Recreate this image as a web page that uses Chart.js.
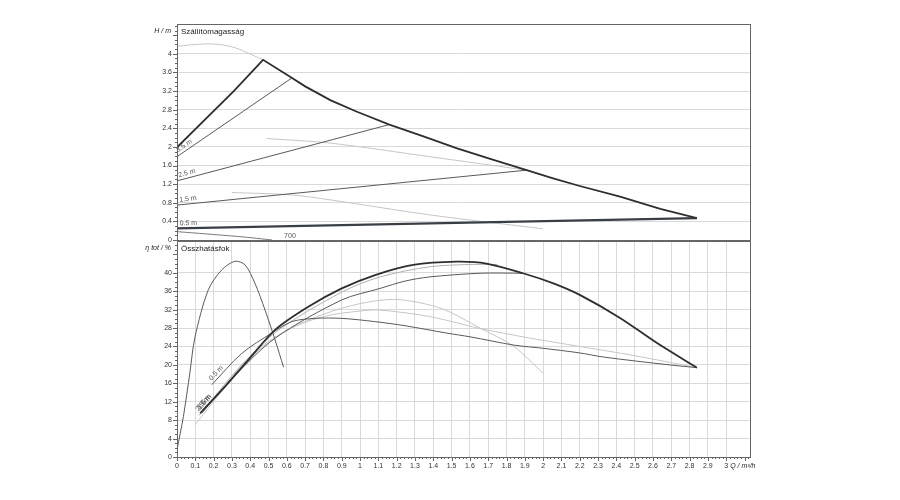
<!DOCTYPE html>
<html>
<head>
<meta charset="utf-8">
<script src="https://cdn.jsdelivr.net/npm/chart.js@4.4.1/dist/chart.umd.min.js"></script>
<style>
body { margin: 0; background: #fff; }
#wrap { position: relative; width: 900px; height: 500px; }
canvas { position: absolute; left: 0; top: 0; }
</style>
</head>
<body>
<div id="wrap">
  <canvas id="headChart" width="900" height="500"></canvas>
  <canvas id="effChart" width="900" height="500"></canvas>
</div>
<script>
// ---- head (H / m) curves, Q in m3/h ----
const qEnvelope = [0, 0.31, 0.47, 0.62, 0.70, 0.84, 0.98, 1.16, 1.35, 1.53, 1.72, 1.91, 2.05, 2.20, 2.42, 2.64, 2.84];
const hEnvelope = [1.99, 3.20, 3.87, 3.50, 3.30, 3.00, 2.76, 2.48, 2.22, 1.97, 1.73, 1.50, 1.33, 1.16, 0.93, 0.67, 0.47];
const qMaxSpeed = [0, 0.1, 0.2, 0.3, 0.38, 0.47];
const hMaxSpeed = [4.16, 4.20, 4.21, 4.15, 4.03, 3.87];
const qSpeedB = [0.49, 0.84, 1.38, 1.91];
const hSpeedB = [2.18, 2.08, 1.79, 1.50];
const qSpeedC = [0.30, 0.62, 0.84, 1.38, 2.00];
const hSpeedC = [1.02, 0.97, 0.86, 0.54, 0.24];
const qDp35 = [0, 0.627];  const hDp35 = [1.79, 3.48];
const qDp25 = [0, 1.16];   const hDp25 = [1.27, 2.48];
const qDp15 = [0, 1.91];   const hDp15 = [0.75, 1.50];
const qDp05 = [0, 2.84];   const hDp05 = [0.25, 0.47];
const q700 = [0, 0.35, 0.52];
const h700 = [0.18, 0.07, 0];

// ---- efficiency (eta tot / %) curves ----
const qEffTall = [0, 0.035, 0.07, 0.098, 0.171, 0.244, 0.317, 0.372, 0.426, 0.481, 0.536, 0.582];
const eEffTall = [1.6, 8.8, 18.2, 26.0, 36.3, 40.6, 42.5, 41.7, 37.7, 31.9, 25.4, 19.5];
const qEffMax = [0.126, 0.262, 0.39, 0.536, 0.717, 0.9, 1.082, 1.29, 1.528, 1.69, 1.89, 2.056, 2.2, 2.42, 2.62, 2.84];
const eEffMax = [9.5, 15.3, 21.1, 27.6, 32.6, 36.6, 39.5, 41.7, 42.4, 42.0, 39.9, 37.7, 35.2, 30.2, 24.8, 19.4];
const qEff15 = [0.135, 0.3, 0.536, 0.9, 1.109, 1.246, 1.38, 1.656, 1.89];
const eEff15 = [9.5, 17.0, 25.8, 34.1, 36.6, 38.2, 39.1, 39.9, 39.9];
const qEff25 = [0.12, 0.3, 0.536, 0.9, 1.109, 1.38, 1.6, 1.75];
const eEff25 = [9.0, 17.5, 27.0, 35.8, 39.1, 41.3, 41.8, 41.8];
const qEffC = [0.098, 0.4, 0.6, 0.8, 1.0, 1.2, 1.44, 1.66, 1.84, 2.0];
const eEffC = [7.0, 21.5, 27.5, 31.0, 33.3, 34.2, 32.3, 27.9, 24.0, 18.2];
const qEffB = [0.15, 0.4, 0.6, 0.8, 1.0, 1.109, 1.38, 1.656, 1.93, 2.2, 2.5, 2.84];
const eEffB = [10.5, 22.0, 27.5, 30.5, 31.7, 31.9, 30.5, 27.9, 25.8, 24.0, 22.0, 19.4];
const qEff05 = [0.19, 0.354, 0.517, 0.627, 0.754, 0.9, 1.08, 1.246, 1.474, 1.6, 1.84, 2.0, 2.2, 2.33, 2.69, 2.84];
const eEff05 = [15.7, 22.5, 26.9, 29.4, 30.1, 30.1, 29.4, 28.5, 26.9, 26.1, 24.3, 23.6, 22.6, 21.7, 20.0, 19.4];

// ---- axes ----
const qMin = 0, qMax = 3.13, qStep = 0.1, qLastLabel = 3;
const hMin = 0, hMax = 4.64, hGridStep = 0.2, hLabelStep = 0.4;
const eMin = 0, eMax = 46.9, eGridStep = 2, eLabelStep = 4;

const FONT = '"Liberation Sans", Arial, sans-serif';
const DARK = '#2e2e2e', MID = '#5a5a5a', LIGHT = '#c6c6c6', GRID = '#d9d9d9';

function pts(qs, vs) { return qs.map((q, i) => ({ x: q, y: vs[i] })); }
function curve(label, qs, vs, color, width, tension) {
  return { label, data: pts(qs, vs), borderColor: color, borderWidth: width,
    pointRadius: 0, showLine: true, fill: false, tension: tension };
}
function interp(qs, vs, q) {
  for (let i = 1; i < qs.length; i++) {
    if (q <= qs[i]) return vs[i - 1] + (vs[i] - vs[i - 1]) * (q - qs[i - 1]) / (qs[i] - qs[i - 1]);
  }
  return vs[vs.length - 1];
}
function fmt(v) { return String(Math.round(v * 10) / 10); }
function labelEvery(v, step, skip) {
  const k = v / step;
  if (Math.abs(k - Math.round(k)) > 1e-6) return null;
  if (skip.some(s => Math.abs(s - v) < 1e-6)) return null;
  return fmt(v);
}

// frame, minor ticks and texts
const framePlugin = {
  id: 'frame',
  afterDraw(chart, args, o) {
    const { ctx, chartArea: a, scales } = chart;
    ctx.save();
    ctx.strokeStyle = '#666'; ctx.lineWidth = 1;
    ctx.strokeRect(Math.round(a.left) + 0.5, Math.round(a.top) + 0.5,
      Math.round(a.right - a.left), Math.round(a.bottom - a.top));
    // y minor ticks
    const y = scales.y;
    const n = Math.floor((y.max - y.min) / o.yMinor + 1e-6);
    for (let i = 0; i <= n; i++) {
      const v = y.min + i * o.yMinor;
      const py = Math.round(y.getPixelForValue(v)) + 0.5;
      const major = Math.abs(v / o.yMajor - Math.round(v / o.yMajor)) < 1e-6;
      ctx.beginPath(); ctx.moveTo(a.left, py); ctx.lineTo(a.left - (major ? 4 : 2), py); ctx.stroke();
    }
    if (o.xTicks) {
      const x = scales.x;
      const m = Math.floor((x.max - x.min) / 0.02 + 1e-6);
      for (let i = 0; i <= m; i++) {
        const v = x.min + i * 0.02;
        const px = Math.round(x.getPixelForValue(v)) + 0.5;
        const major = i % 5 === 0;
        ctx.beginPath(); ctx.moveTo(px, a.bottom); ctx.lineTo(px, a.bottom + (major ? 4 : 2)); ctx.stroke();
      }
    }
    // titles
    ctx.fillStyle = '#222';
    ctx.font = '8px ' + FONT;
    ctx.textAlign = 'left'; ctx.textBaseline = 'middle';
    ctx.fillText(o.title, a.left + 4, a.top + 8);
    ctx.textAlign = 'right';
    ctx.font = 'italic 7px ' + FONT;
    ctx.fillText(o.yTitle, a.left - 6, a.top + 7);
    if (o.xTicks) {
      ctx.textAlign = 'left';
      ctx.fillText('Q / m\u00b3/h', scales.x.getPixelForValue(qLastLabel) + 4, a.bottom + 9);
    }
    // labels along lines
    ctx.fillStyle = '#555';
    ctx.font = '7px ' + FONT;
    (o.lineLabels || []).forEach(l => {
      const ds = chart.data.datasets[l.ds].data;
      const qs = ds.map(p => p.x), vs = ds.map(p => p.y);
      const q2 = l.q + 0.05;
      const x1 = scales.x.getPixelForValue(l.q), y1 = scales.y.getPixelForValue(interp(qs, vs, l.q));
      const x2 = scales.x.getPixelForValue(q2), y2 = scales.y.getPixelForValue(interp(qs, vs, q2));
      ctx.save();
      ctx.translate(x1, y1);
      ctx.rotate(Math.atan2(y2 - y1, x2 - x1));
      ctx.textAlign = 'left'; ctx.textBaseline = 'bottom';
      ctx.fillText(l.text, 0, -1.5);
      ctx.restore();
    });
    (o.freeLabels || []).forEach(l => {
      ctx.textAlign = 'center'; ctx.textBaseline = 'middle';
      ctx.fillText(l.text, scales.x.getPixelForValue(l.q), scales.y.getPixelForValue(l.v));
    });
    ctx.restore();
  }
};

function baseX(show) {
  const x = {
    type: 'linear', min: qMin, max: qMax, display: show,
    border: { display: false },
    grid: { color: GRID, drawTicks: false },
    ticks: { stepSize: qStep, includeBounds: false, autoSkip: false, maxRotation: 0,
      padding: 5, color: '#333', font: { size: 7, family: FONT },
      callback: v => (v > qLastLabel + 1e-6 ? null : fmt(v)) }
  };
  if (show) x.afterFit = s => { s.height = 43; };
  return x;
}

new Chart(document.getElementById('headChart'), {
  type: 'scatter',
  data: { datasets: [
    curve('max', qEnvelope, hEnvelope, DARK, 1.8, 0),
    curve('0.5 m', qDp05, hDp05, '#3a3f45', 2.2, 0),
    curve('3.5 m', qDp35, hDp35, MID, 1, 0),
    curve('2.5 m', qDp25, hDp25, MID, 1, 0),
    curve('1.5 m', qDp15, hDp15, MID, 1, 0),
    curve('max speed', qMaxSpeed, hMaxSpeed, LIGHT, 1, 0.4),
    curve('speed b', qSpeedB, hSpeedB, LIGHT, 1, 0.3),
    curve('speed c', qSpeedC, hSpeedC, LIGHT, 1, 0.3),
    curve('700', q700, h700, '#777', 1, 0.2)
  ] },
  options: {
    responsive: false, animation: false,
    layout: { autoPadding: false, padding: { top: 24, right: 150, bottom: 260, left: 0 } },
    plugins: { legend: { display: false }, tooltip: { enabled: false },
      frame: { yMinor: 0.1, yMajor: hLabelStep, xTicks: false, title: 'Szállítómagasság', yTitle: 'H / m',
        lineLabels: [
          { ds: 2, q: 0.015, text: '3.5 m' },
          { ds: 3, q: 0.015, text: '2.5 m' },
          { ds: 4, q: 0.015, text: '1.5 m' },
          { ds: 1, q: 0.015, text: '0.5 m' }
        ],
        freeLabels: [{ q: 0.617, v: 0.09, text: '700' }] } },
    scales: {
      x: baseX(false),
      y: { type: 'linear', min: hMin, max: hMax,
        afterFit(s) { s.width = 177; },
        border: { display: false },
        grid: { color: GRID, drawTicks: false },
        ticks: { stepSize: hGridStep, includeBounds: false, autoSkip: false, padding: 5,
          color: '#333', font: { size: 7, family: FONT }, callback: v => labelEvery(v, hLabelStep, [4.4]) } }
    }
  },
  plugins: [framePlugin]
});

new Chart(document.getElementById('effChart'), {
  type: 'scatter',
  data: { datasets: [
    curve('max', qEffMax, eEffMax, DARK, 1.8, 0.3),
    curve('tall', qEffTall, eEffTall, MID, 1, 0.3),
    curve('1.5 m', qEff15, eEff15, MID, 1, 0.3),
    curve('0.5 m', qEff05, eEff05, MID, 1, 0.3),
    curve('2.5 m', qEff25, eEff25, '#b0b0b0', 1, 0.3),
    curve('c', qEffC, eEffC, LIGHT, 1, 0.3),
    curve('b', qEffB, eEffB, LIGHT, 1, 0.3)
  ] },
  options: {
    responsive: false, animation: false,
    layout: { autoPadding: false, padding: { top: 241, right: 150, bottom: 0, left: 0 } },
    plugins: { legend: { display: false }, tooltip: { enabled: false },
      frame: { yMinor: 1, yMajor: eLabelStep, xTicks: true, title: 'Összhatásfok', yTitle: '\u03b7 tot / %',
        lineLabels: [
          { ds: 3, q: 0.2, text: '0.5 m' },
          { ds: 2, q: 0.14, text: '1.5 m' },
          { ds: 4, q: 0.13, text: '2.5 m' },
          { ds: 0, q: 0.135, text: '3.5 m' }
        ] } },
    scales: {
      x: baseX(true),
      y: { type: 'linear', min: eMin, max: eMax,
        afterFit(s) { s.width = 177; },
        border: { display: false },
        grid: { color: GRID, drawTicks: false },
        ticks: { stepSize: eGridStep, includeBounds: false, autoSkip: false, padding: 5,
          color: '#333', font: { size: 7, family: FONT }, callback: v => labelEvery(v, eLabelStep, [44]) } }
    }
  },
  plugins: [framePlugin]
});
</script>
</body>
</html>
